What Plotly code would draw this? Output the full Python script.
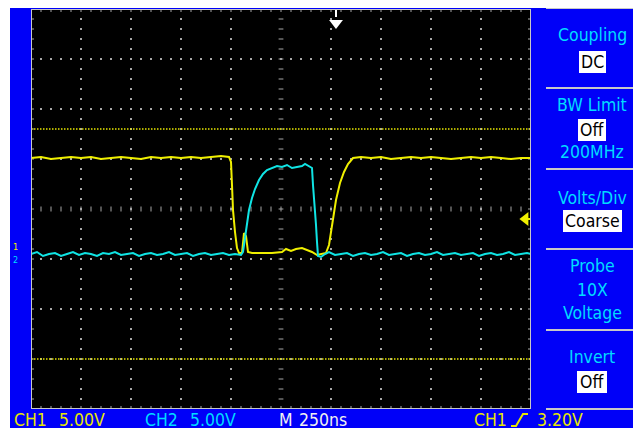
import plotly.graph_objects as go

# ---------------- data (time in ns, volts at 5 V/div) ----------------
ch1_t = [-1250, -1200, -1150, -1100, -1050, -1000, -950, -900, -850, -800, -750, -700, -650, -600,
         -550, -500, -450, -400, -350, -300, -260, -250, -245, -240, -230, -220, -210, -195, -185,
         -175, -165, -145, -95, -45, 5, 25, 50, 75, 105, 130, 155, 180, 205, 225, 240, 250, 260,
         275, 295, 315, 335, 360, 400, 450, 500, 550, 600, 650, 700, 750, 800, 850, 900, 950,
         1000, 1050, 1100, 1150, 1200, 1250]
ch1_v = [5.1, 5.2, 5.0, 5.1, 5.2, 5.1, 5.2, 5.0, 5.1, 5.2, 5.1, 5.0, 5.2, 5.1,
         5.2, 5.1, 5.2, 5.1, 5.2, 5.3, 5.2, 4.7, 2.4, -0.1, -2.3, -3.9, -4.4, -4.4, -2.4,
         -2.7, -4.3, -4.4, -4.4, -4.4, -4.3, -4.0, -4.2, -4.0, -3.9, -4.1, -4.3, -4.6, -4.5, -4.4, -3.6, -2.3, -0.9,
         0.9, 2.6, 3.7, 4.5, 5.1, 5.2, 5.1, 5.2, 5.0, 5.1, 5.2, 5.1, 5.2, 5.1, 5.0, 5.1, 5.2,
         5.1, 5.2, 5.1, 5.0, 5.1, 5.1]

ch2_t = [-1250, -1220, -1190, -1160, -1130, -1100, -1070, -1040, -1010, -980, -950, -920, -890, -860,
         -830, -800, -770, -740, -710, -680, -650, -620, -590, -560, -530, -500, -470, -440, -410,
         -380, -350, -320, -290, -260, -230, -200, -190, -180, -170, -160, -145, -130, -110, -90,
         -70, -45, -20, 5, 30, 55, 80, 105, 120, 140, 155, 160, 170, 175, 180, 185, 200, 220, 240,
         270, 300, 330, 360, 390, 420, 450, 480, 510, 540, 570, 600, 630, 660, 690, 720, 750, 780,
         810, 840, 870, 900, 930, 960, 990, 1020, 1050, 1080, 1110, 1140, 1170, 1200, 1230, 1250]
ch2_v = [-4.5, -4.3, -4.7, -4.5, -4.4, -4.7, -4.5, -4.3, -4.6, -4.4, -4.5, -4.7, -4.4, -4.5,
         -4.3, -4.6, -4.5, -4.4, -4.7, -4.5, -4.4, -4.6, -4.5, -4.3, -4.6, -4.5, -4.4, -4.7, -4.5,
         -4.4, -4.6, -4.5, -4.4, -4.6, -4.5, -4.6, -4.3, -2.9, -1.3, -0.1, 1.1, 2.0, 2.9, 3.5,
         3.9, 4.1, 4.3, 4.2, 4.4, 4.1, 4.2, 4.3, 4.5, 4.3, 4.1, 2.4, 0.2, -1.6, -3.3, -4.7, -4.8, -4.5, -4.3,
         -4.6, -4.5, -4.4, -4.7, -4.5, -4.4, -4.6, -4.5, -4.3, -4.6, -4.5, -4.4, -4.7, -4.5, -4.4, -4.6, -4.5, -4.3,
         -4.6, -4.5, -4.4, -4.6, -4.5, -4.4, -4.7, -4.5, -4.4, -4.6, -4.5, -4.3, -4.6, -4.5, -4.4, -4.5]

cursor_levels = [8.0, -15.0]
trigger_time = 275
trigger_level = -1.0
ch1_ground = -4.0
ch2_ground = -4.9

status_words = [("CH1", 12, "#e8e800"), ("5.00V", 57, "#e8e800"),
                ("CH2", 143, "#00dcff"), ("5.00V", 188, "#00dcff"),
                ("M", 277, "#f0f0f0"), ("250ns", 297, "#f0f0f0"),
                ("CH1", 472, "#e8e800"), ("3.20V", 535, "#e8e800")]
menu_labels = [("Coupling", 35), ("BW Limit", 105), ("200MHz", 152), ("Volts/Div", 198),
               ("Probe", 266), ("10X", 290), ("Voltage", 313), ("Invert", 357)]
menu_boxes = [("DC", 62, 579, 606), ("Off", 130, 578, 606), ("Coarse", 221, 563, 622), ("Off", 382, 577, 607)]
menu_separators = [8, 88, 169, 249, 330, 409]

# ---------------- geometry helpers (page has an 8px body margin) ----------------
OFF = 8
W, H = 641 - OFF, 433 - OFF
X0, X1, Y0, Y1 = 31, 531, 9, 409
def px(x):
    return (x - OFF) / W
def py(y):
    return 1 - (y - OFF) / H

FONT = "DejaVu Sans Condensed, Liberation Sans Narrow, Arial Narrow, DejaVu Sans, sans-serif"
GRID = "#a8a8a8"

fig = go.Figure()

# grid dots
dx, dy = [], []
for i in range(-5, 6):
    xv = i * 250
    if i in (-5, 0, 5):
        continue
    for k in range(-19, 20):
        dx.append(xv); dy.append(k)
for j in range(-4, 5):
    yv = j * 5
    if j in (-4, 0, 4):
        continue
    for k in range(-24, 25):
        dx.append(k * 50); dy.append(yv)
fig.add_trace(go.Scatter(x=dx, y=dy, mode="markers",
                         marker=dict(symbol="square", size=2, color=GRID, line=dict(width=0)),
                         hoverinfo="skip", showlegend=False))

# center cross dashes and border ticks
sx, sy = [], []
for k in range(-19, 20):
    sx += [-12, 12, None]; sy += [k, k, None]
    sx += [-1250, -1235, None]; sy += [k, k, None]
    sx += [1250, 1235, None]; sy += [k, k, None]
for k in range(-24, 25):
    sx += [k * 50, k * 50, None]; sy += [-0.25, 0.25, None]
    sx += [k * 50, k * 50, None]; sy += [20, 19.7, None]
    sx += [k * 50, k * 50, None]; sy += [-20, -19.7, None]
fig.add_trace(go.Scatter(x=sx, y=sy, mode="lines", line=dict(color=GRID, width=1),
                         hoverinfo="skip", showlegend=False))

# cursor lines
for lv in cursor_levels:
    fig.add_trace(go.Scatter(x=[-1250, 1250], y=[lv, lv], mode="lines",
                             line=dict(color="#e8e800", width=1.5, dash="1.5px,1.5px"),
                             hoverinfo="skip", showlegend=False))

# waveforms
fig.add_trace(go.Scatter(x=ch1_t, y=ch1_v, mode="lines", line=dict(color="#f0f000", width=2),
                         name="CH1", showlegend=False))
fig.add_trace(go.Scatter(x=ch2_t, y=ch2_v, mode="lines", line=dict(color="#10e4e4", width=2),
                         name="CH2", showlegend=False))

# trigger position marker (top) and trigger level marker (right)
fig.add_trace(go.Scatter(x=[trigger_time, trigger_time], y=[20, 19.2], mode="lines",
                         line=dict(color="white", width=2), cliponaxis=False,
                         hoverinfo="skip", showlegend=False))
fig.add_trace(go.Scatter(x=[trigger_time], y=[18.6], mode="markers",
                         marker=dict(symbol="triangle-down", size=12, color="white"),
                         cliponaxis=False, hoverinfo="skip", showlegend=False))
fig.add_trace(go.Scatter(x=[1222], y=[trigger_level], mode="markers",
                         marker=dict(symbol="triangle-left", size=12, color="#f0f000"),
                         cliponaxis=False, hoverinfo="skip", showlegend=False))
fig.add_trace(go.Scatter(x=[1225, 1250], y=[trigger_level, trigger_level], mode="lines",
                         line=dict(color="#f0f000", width=2), cliponaxis=False,
                         hoverinfo="skip", showlegend=False))

# channel ground markers
fig.add_trace(go.Scatter(x=[-1285], y=[ch1_ground], mode="markers",
                         marker=dict(symbol="triangle-right", size=7, color="#f0f000"),
                         cliponaxis=False, hoverinfo="skip", showlegend=False))
fig.add_trace(go.Scatter(x=[-1285], y=[ch2_ground], mode="markers",
                         marker=dict(symbol="triangle-right", size=5, color="#00dcff"),
                         cliponaxis=False, hoverinfo="skip", showlegend=False))

shapes = [
    dict(type="rect", xref="paper", yref="paper", x0=px(10), x1=1, y0=py(428), y1=py(8),
         fillcolor="#0000f8", line=dict(width=0), layer="below"),
    dict(type="rect", xref="paper", yref="paper", x0=px(X0), x1=px(X1), y0=py(Y1), y1=py(Y0),
         fillcolor="black", line=dict(width=0), layer="below"),
    dict(type="rect", xref="x", yref="y", x0=-1250, x1=1250, y0=-20, y1=20,
         line=dict(color="#c8c8c8", width=2)),
]
for yy in menu_separators:
    shapes.append(dict(type="line", xref="paper", yref="paper", x0=px(546), x1=px(638),
                       y0=py(yy), y1=py(yy), line=dict(color="#c8c8c8", width=2)))
for txt, cy, bx0, bx1 in menu_boxes:
    shapes.append(dict(type="rect", xref="paper", yref="paper", x0=px(bx0), x1=px(bx1),
                       y0=py(cy + 11), y1=py(cy - 11), fillcolor="white", line=dict(width=0)))
# rising edge trigger symbol
shapes.append(dict(type="path", xref="paper", yref="paper",
                   path=f"M {px(511)} {py(426)} L {px(516)} {py(426)} L {px(523)} {py(414)} L {px(528)} {py(414)}",
                   line=dict(color="#e8e800", width=2)))

annotations = []
for txt, cy in menu_labels:
    annotations.append(dict(text=txt, xref="paper", yref="paper", x=px(592), y=py(cy),
                            xanchor="center", yanchor="middle", showarrow=False,
                            font=dict(family=FONT, size=17.5, color="#00dcff")))
for txt, cy, bx0, bx1 in menu_boxes:
    annotations.append(dict(text=txt, xref="paper", yref="paper", x=px((bx0 + bx1) / 2), y=py(cy),
                            xanchor="center", yanchor="middle", showarrow=False,
                            font=dict(family=FONT, size=17.5, color="black")))
for txt, xl, col in status_words:
    annotations.append(dict(text=txt, xref="paper", yref="paper", x=px(xl), y=py(420),
                            xanchor="left", yanchor="middle", showarrow=False,
                            font=dict(family=FONT, size=17.5, color=col)))
annotations.append(dict(text="1", xref="paper", yref="paper", x=px(15), y=py(247),
                        xanchor="center", yanchor="middle", showarrow=False,
                        font=dict(family=FONT, size=9, color="#f0f000")))
annotations.append(dict(text="2", xref="paper", yref="paper", x=px(15), y=py(260),
                        xanchor="center", yanchor="middle", showarrow=False,
                        font=dict(family=FONT, size=9, color="#00dcff")))

fig.update_layout(
    width=W, height=H, margin=dict(l=0, r=0, t=0, b=0),
    paper_bgcolor="white", plot_bgcolor="black",
    xaxis=dict(domain=[px(X0), px(X1)], range=[-1250, 1250], showgrid=False, zeroline=False,
               showticklabels=False, ticks="", fixedrange=True),
    yaxis=dict(domain=[py(Y1), py(Y0)], range=[-20, 20], showgrid=False, zeroline=False,
               showticklabels=False, ticks="", fixedrange=True),
    shapes=shapes, annotations=annotations, showlegend=False,
)
fig.write_html("out.html")
